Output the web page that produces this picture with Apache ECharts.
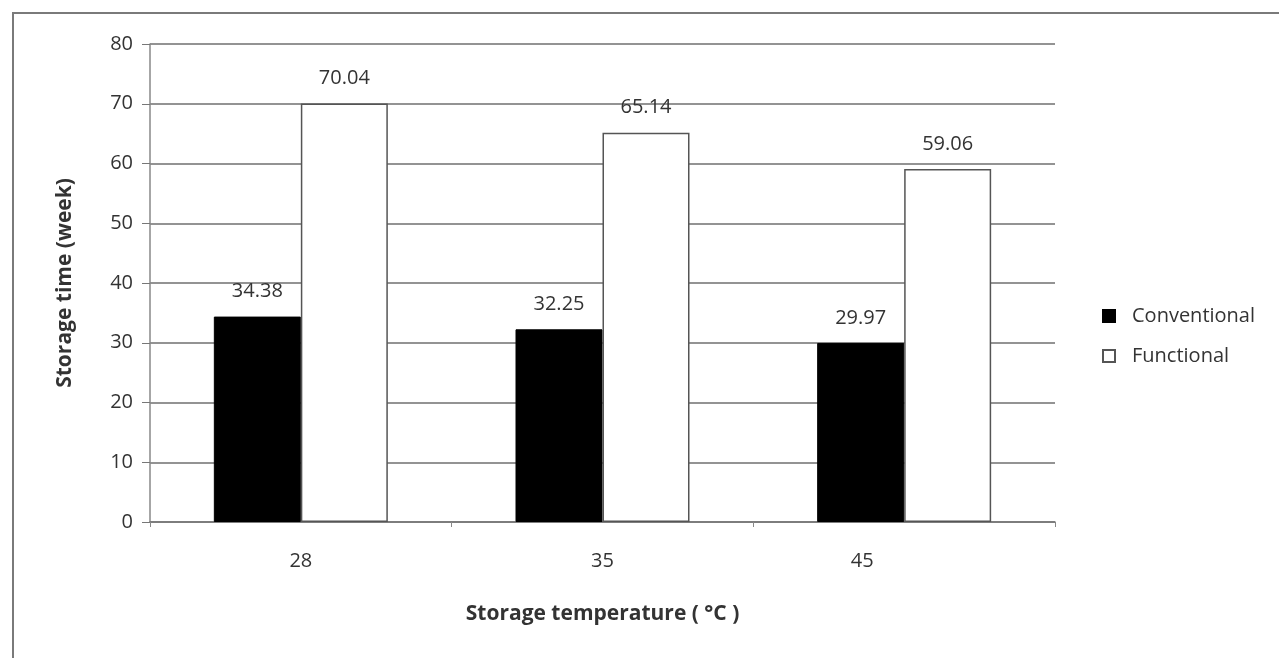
<!DOCTYPE html>
<html><head><meta charset="utf-8">
<script src="https://cdn.jsdelivr.net/npm/echarts@6/dist/echarts.min.js"></script>
<style>html,body{margin:0;padding:0;background:#fff}#c{width:1279px;height:658px}</style>
</head><body><div id="c"></div>
<script>
const categories = ['28', '35', '45'];
const conventional = [34.38, 32.25, 29.97];
const functional = [70.04, 65.14, 59.06];
const yTicks = [0, 10, 20, 30, 40, 50, 60, 70, 80];

const FONT = '"Open Sans", "Liberation Sans", sans-serif';
const chart = echarts.init(document.getElementById('c'));
chart.setOption({
  backgroundColor: '#fff',
  animation: false,
  textStyle: { fontFamily: FONT },
  graphic: [{
    type: 'rect', shape: { x: 13, y: 13, width: 1300, height: 700 },
    style: { fill: 'none', stroke: '#7a7a7a', lineWidth: 2 }, silent: true, z: -1
  }],
  grid: { left: 150, right: 224, top: 44, bottom: 136 },
  legend: {
    orient: 'vertical', left: 1097, top: 301, itemGap: 20,
    itemWidth: 12, itemHeight: 12, icon: 'rect',
    textStyle: { fontFamily: FONT, fontSize: 20, color: '#333', padding: [0, 0, 0, 12] },
    data: ['Conventional', 'Functional']
  },
  xAxis: {
    type: 'category', data: categories,
    name: 'Storage temperature ( \u00B0C )', nameLocation: 'middle', nameGap: 82,
    nameTextStyle: { fontFamily: FONT, fontSize: 21, fontWeight: 'bold', color: '#333' },
    axisLine: { lineStyle: { color: '#777', width: 1.5 } },
    axisTick: { show: true, length: 5, lineStyle: { color: '#888' } },
    axisLabel: { margin: 29, fontSize: 20, color: '#333', fontFamily: FONT,
      formatter: v => v === '45' ? '{off|' + v + '}' : v,
      rich: { off: { fontSize: 20, color: '#333', fontFamily: FONT, padding: [0, 84, 0, 0] } } }
  },
  yAxis: {
    type: 'value', min: 0, max: 80, interval: 10,
    name: 'Storage time (week)', nameLocation: 'middle', nameGap: 74,
    nameTextStyle: { fontFamily: FONT, fontSize: 21, fontWeight: 'bold', color: '#333' },
    axisLine: { show: true, lineStyle: { color: '#888', width: 1.5 } },
    axisTick: { show: true, length: 8, lineStyle: { color: '#777' } },
    splitLine: { lineStyle: { color: '#6f6f6f', width: 1.5 } },
    axisLabel: { margin: 17, fontSize: 20, color: '#333', fontFamily: FONT,
      formatter: v => yTicks.includes(v) ? String(v) : '' }
  },
  series: [{
    name: 'Conventional', type: 'bar', data: conventional,
    barWidth: 87, barGap: '0%',
    itemStyle: { color: '#000', borderColor: '#000', borderWidth: 1 },
    label: { show: true, position: 'top', distance: 15, fontSize: 20, color: '#333', fontFamily: FONT,
      formatter: p => p.value.toFixed(2) }
  }, {
    name: 'Functional', type: 'bar', data: functional,
    barWidth: 87, barGap: '0%',
    itemStyle: { color: '#fff', borderColor: '#555', borderWidth: 1.5 },
    label: { show: true, position: 'top', distance: 15, fontSize: 20, color: '#333', fontFamily: FONT,
      formatter: p => p.value.toFixed(2) }
  }]
});
</script></body></html>
